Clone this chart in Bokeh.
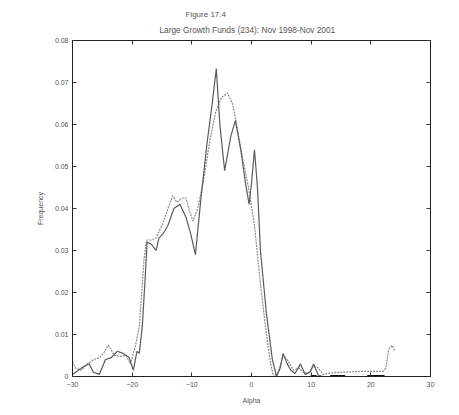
from bokeh.plotting import figure
from bokeh.models import FixedTicker, LinearAxis, Title, Range1d
from bokeh.embed import file_html
from bokeh.resources import INLINE

# Alpha grid and frequency estimates for the two distributions
alpha_a = [-30, -29.3, -28, -27.2, -26.5, -25.5, -24.5, -23.5, -22.5, -21.5, -20.5, -19.8,
           -19.2, -18.8, -18.3, -17.8, -17.5, -16.8, -16.0, -15.5, -14.8, -14.0, -13.0,
           -12.0, -11.0, -10.2, -9.4, -8.5, -7.5, -6.5, -5.9, -5.3, -4.5, -3.5, -2.7,
           -1.8, -1.0, -0.4, 0.0, 0.5, 1.0, 1.5, 2.5, 3.5, 4.2, 4.8, 5.3, 6.0, 6.6, 7.3,
           8.2, 9.0, 9.8, 10.4, 11.2, 12.0, 16.0, 20.0, 24.0]
freq_a = [0.0005, 0.0012, 0.0025, 0.0030, 0.0010, 0.0005, 0.0040, 0.0045, 0.0060, 0.0055,
          0.0045, 0.0015, 0.0060, 0.0055, 0.0120, 0.0240, 0.0320, 0.0315, 0.0300, 0.0330,
          0.0340, 0.0360, 0.0400, 0.0410, 0.0380, 0.0340, 0.0290, 0.0420, 0.0550, 0.0660,
          0.0733, 0.0600, 0.0490, 0.0570, 0.0610, 0.0540, 0.0460, 0.0410, 0.0460, 0.0540,
          0.0450, 0.0300, 0.0150, 0.0040, 0.0000, 0.0020, 0.0055, 0.0030, 0.0015, 0.0007,
          0.0030, 0.0005, 0.0010, 0.0030, 0.0003, 0.0000, 0.0000, 0.0000, 0.0000]

alpha_b = [-30, -29.5, -28.5, -27.5, -26.5, -25.5, -24.8, -24.0, -23.0, -22.0, -21.0, -20.3,
           -19.5, -18.8, -18.4, -18.0, -17.6, -16.8, -16.0, -15.0, -14.0, -13.2, -12.5,
           -11.5, -11.0, -10.3, -9.8, -9.0, -8.0, -7.0, -6.0, -5.0, -4.0, -3.2, -2.5, -1.5,
           -0.5, 0.5, 1.5, 2.5, 3.2, 3.7, 4.5, 5.3, 6.0, 7.0, 8.0, 8.7, 9.5, 10.5, 11.2,
           12.0, 13.0, 15.0, 18.0, 22.0, 22.5, 23.0, 23.6, 24.0]
freq_b = [0.0035, 0.0020, 0.0015, 0.0030, 0.0040, 0.0045, 0.0055, 0.0075, 0.0050, 0.0048,
          0.0050, 0.0030, 0.0070, 0.0120, 0.0200, 0.0280, 0.0325, 0.0325, 0.0330, 0.0360,
          0.0400, 0.0430, 0.0415, 0.0425, 0.0425, 0.0390, 0.0370, 0.0400, 0.0470, 0.0560,
          0.0630, 0.0665, 0.0675, 0.0650, 0.0600, 0.0520, 0.0450, 0.0360, 0.0220, 0.0100,
          0.0030, 0.0000, 0.0010, 0.0050, 0.0040, 0.0015, 0.0020, 0.0010, 0.0008, 0.0025,
          0.0020, 0.0005, 0.0008, 0.0010, 0.0012, 0.0012, 0.0020, 0.0065, 0.0074, 0.0060]

# Stretches where the density sits on zero
zero_start = [9.9, 13.2, 19.4]
zero_end = [10.9, 15.7, 22.3]

x_ticks = [-30, -20, -10, 0, 10, 20, 30]
y_ticks = [0, 0.01, 0.02, 0.03, 0.04, 0.05, 0.06, 0.07, 0.08]
y_labels = ["0", "0.01", "0.02", "0.03", "0.04", "0.05", "0.06", "0.07", "0.08"]

FONT = "Liberation Sans"
INK = "#555555"

p = figure(width=459, height=415, output_backend="svg", toolbar_location=None,
           x_range=Range1d(-30, 30), y_range=Range1d(0, 0.08),
           min_border_left=72, min_border_right=29, min_border_top=40,
           min_border_bottom=39)
p.background_fill_color = "white"
p.border_fill_color = "white"
p.outline_line_color = "#222222"
p.outline_line_width = 1
p.xgrid.visible = False
p.ygrid.visible = False

p.line(alpha_b, freq_b, line_color="#8a8a8a", line_width=1.2, line_dash="2 1")
p.line(alpha_a, freq_a, line_color="#5a5a5a", line_width=1.2)
p.segment(x0=zero_start, y0=[0] * 3, x1=zero_end, y1=[0] * 3,
          line_color="#111111", line_width=3)


def style_axis(ax, ticks, show_labels):
    ax.ticker = FixedTicker(ticks=ticks)
    ax.major_tick_in = 4
    ax.major_tick_out = 0
    ax.minor_tick_line_color = None
    ax.axis_line_color = "#222222"
    ax.major_tick_line_color = "#333333"
    ax.major_label_text_font = FONT
    ax.major_label_text_font_size = "7px"
    ax.major_label_text_color = INK
    ax.axis_label_text_font = FONT
    ax.axis_label_text_font_size = "7px"
    ax.axis_label_text_font_style = "normal"
    ax.axis_label_text_color = INK
    if not show_labels:
        # tick marks only on the mirrored box sides
        ax.major_label_overrides = {t: "" for t in ticks}
        ax.major_label_standoff = 0


xa = p.xaxis[0]
style_axis(xa, x_ticks, True)
xa.axis_label = "Alpha"
xa.major_label_standoff = 5
xa.axis_label_standoff = 7

ya = p.yaxis[0]
style_axis(ya, y_ticks, True)
ya.major_label_overrides = {t: s for t, s in zip(y_ticks, y_labels)}
ya.axis_label = "Frequency"
ya.major_label_standoff = 4
ya.axis_label_standoff = 8

top = LinearAxis()
style_axis(top, x_ticks, False)
p.add_layout(top, "above")
right = LinearAxis()
style_axis(right, y_ticks, False)
p.add_layout(right, "right")

t2 = Title(text="Large Growth Funds (234): Nov 1998-Nov 2001", align="left", offset=87,
           text_font=FONT, text_font_size="8.3px", text_font_style="normal",
           text_color=INK, standoff=12)
t1 = Title(text="Figure 17.4", align="left", offset=113, text_font=FONT,
           text_font_size="8px", text_font_style="normal", text_color=INK, standoff=-4)
p.add_layout(t2, "above")
p.add_layout(t1, "above")

open("out.html", "w").write(file_html(p, INLINE))
